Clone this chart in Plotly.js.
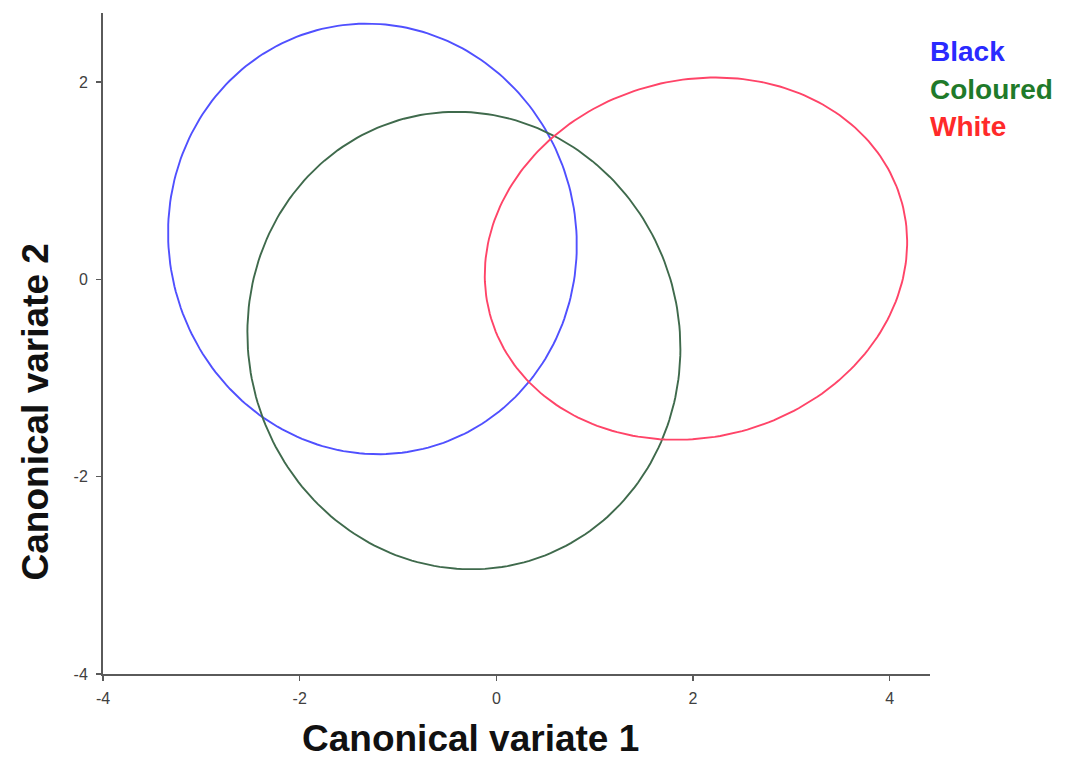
<!DOCTYPE html>
<html>
<head>
<meta charset="utf-8">
<script src="https://cdn.plot.ly/plotly-3.0.1.min.js"></script>
<style>
  html, body { margin: 0; padding: 0; background: #ffffff; }
  #chart { width: 1066px; height: 763px; }
</style>
</head>
<body>
<div id="chart"></div>
<script>
// Group confidence ellipses in canonical variate space
const groups = ['Black', 'Coloured', 'White'];
const centreX = [-1.26, -0.33, 2.03];
const centreY = [0.41, -0.62, 0.21];
const semiAxisA = [2.07, 2.19, 2.17];   // along the tilted first axis
const semiAxisB = [2.19, 2.33, 1.81];   // along the tilted second axis
const tiltDeg = [15, 16.6, 15];

const lineColours = ['#5050ff', '#3f6a4c', '#ff4468'];
const labelColours = ['#2a2aff', '#1f7a2a', '#ff2a2a'];

const tickValues = [-4, -2, 0, 2, 4];
const tickLabels = ['-4', '-2', '0', '2', '4'];

// Outline an ellipse from its centre, semi-axes and tilt
function ellipseOutline(cx, cy, a, b, deg) {
  const th = deg * Math.PI / 180;
  const c = Math.cos(th), s = Math.sin(th);
  const xs = [], ys = [];
  const n = 240;
  for (let i = 0; i <= n; i++) {
    const t = 2 * Math.PI * i / n;
    const u = a * Math.cos(t), v = b * Math.sin(t);
    xs.push(cx + u * c - v * s);
    ys.push(cy + u * s + v * c);
  }
  return { xs, ys };
}

const traces = groups.map((g, i) => {
  const e = ellipseOutline(centreX[i], centreY[i], semiAxisA[i], semiAxisB[i], tiltDeg[i]);
  return {
    type: 'scatter',
    mode: 'lines',
    name: g,
    x: e.xs,
    y: e.ys,
    line: { color: lineColours[i], width: 1.9 },
    hoverinfo: 'name'
  };
});

const font = 'Liberation Sans, Arial, sans-serif';

const legendY = [0.941, 0.885, 0.829];
const annotations = groups.map((g, i) => ({
  xref: 'paper', yref: 'paper',
  x: 0.9976, y: legendY[i],
  xanchor: 'left', yanchor: 'middle',
  text: '<b>' + g + '</b>',
  showarrow: false,
  font: { family: font, size: 28, color: labelColours[i] }
}));

annotations.push({
  xref: 'paper', yref: 'paper',
  x: 0.444, y: -0.098,
  xanchor: 'center', yanchor: 'middle',
  text: '<b>Canonical variate 1</b>',
  showarrow: false,
  font: { family: font, size: 37, color: '#111111' }
});
annotations.push({
  xref: 'paper', yref: 'paper',
  x: -0.082, y: 0.396,
  xanchor: 'center', yanchor: 'middle',
  textangle: -90,
  text: '<b>Canonical variate 2</b>',
  showarrow: false,
  font: { family: font, size: 37, color: '#111111' }
});

const axisCommon = {
  showgrid: false,
  zeroline: false,
  showline: true,
  linecolor: '#5a5a5a',
  linewidth: 2,
  ticks: 'outside',
  ticklen: 5,
  tickwidth: 1.5,
  tickcolor: '#5a5a5a',
  tickvals: tickValues,
  ticktext: tickLabels,
  tickfont: { family: font, size: 16, color: '#404040' },
  fixedrange: true
};

const layout = {
  width: 1066,
  height: 763,
  margin: { l: 103, r: 136, t: 13, b: 89 },
  paper_bgcolor: '#ffffff',
  plot_bgcolor: '#ffffff',
  showlegend: false,
  xaxis: Object.assign({}, axisCommon, { range: [-4, 4.41], ticklabelstandoff: 4 }),
  yaxis: Object.assign({}, axisCommon, { range: [-4, 2.70], ticklabelstandoff: 5 }),
  annotations: annotations
};

Plotly.newPlot('chart', traces, layout, { staticPlot: true, displayModeBar: false });
</script>
</body>
</html>
